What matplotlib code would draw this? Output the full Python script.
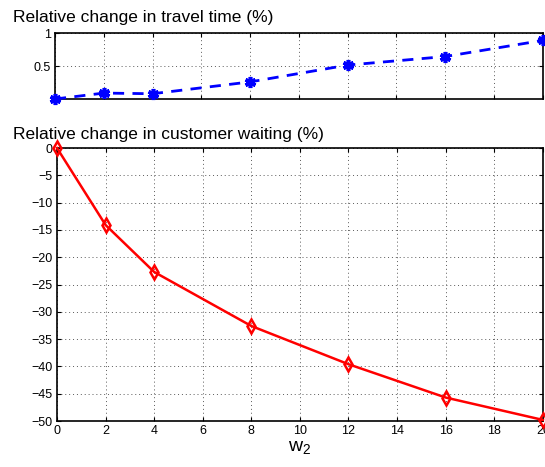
import matplotlib
matplotlib.use("Agg")
import matplotlib.pyplot as plt

# data
w2 = [0, 2, 4, 8, 12, 16, 20]
travel_change = [0.0, 0.09, 0.08, 0.26, 0.515, 0.645, 0.89]
waiting_change = [0.0, -14.1, -22.7, -32.6, -39.6, -45.7, -49.8]

plt.rcParams['font.family'] = ['Liberation Sans', 'DejaVu Sans']
plt.rcParams['font.size'] = 9
plt.rcParams['xtick.direction'] = 'in'
plt.rcParams['ytick.direction'] = 'in'

fig = plt.figure(figsize=(5.45, 4.67), dpi=100)

# top panel: travel time
ax1 = fig.add_axes([0.101, 0.788, 0.895, 0.141])
ax1.plot(w2, travel_change, color='b', linestyle='--', linewidth=2, dashes=(4, 3),
         marker=(6, 2, 0), markersize=8, markeredgewidth=2.6, clip_on=False, zorder=5)
ax1.set_xlim(0, 20)
ax1.set_ylim(0, 1)
ax1.set_yticks([0.5, 1])
ax1.set_yticklabels(['0.5', '1'])
ax1.set_xticks(range(0, 21, 2))
ax1.set_xticklabels([])
ax1.grid(True, linestyle=(0, (1, 3)), color='0.35', linewidth=0.7)
ax1.tick_params(top=True, right=True, length=3, pad=3)
for s in ax1.spines.values():
    s.set_linewidth(1.2)
fig.text(0.024, 0.953, 'Relative change in travel time (%)', fontsize=12.5)

# bottom panel: customer waiting
ax2 = fig.add_axes([0.1046, 0.0985, 0.8914, 0.5845])
ax2.plot(w2, waiting_change, color='r', linewidth=1.8,
         marker='d', markersize=7, markerfacecolor='none', markeredgewidth=1.8,
         clip_on=False, zorder=5)
ax2.set_xlim(0, 20)
ax2.set_ylim(-50, 0)
ax2.set_xticks(range(0, 21, 2))
ax2.set_yticks(range(-50, 1, 5))
ax2.set_yticklabels(['\u2212%d' % abs(v) if v < 0 else '0' for v in range(-50, 1, 5)])
ax2.grid(True, linestyle=(0, (1, 3)), color='0.35', linewidth=0.7)
ax2.tick_params(top=True, right=True, length=3, pad=3)
for s in ax2.spines.values():
    s.set_linewidth(1.2)
ax2.set_xlabel(r'$\mathregular{w_2}$', fontsize=14, labelpad=1)
fig.text(0.024, 0.703, 'Relative change in customer waiting (%)', fontsize=12.5)

fig.savefig('out.png', dpi=100)
